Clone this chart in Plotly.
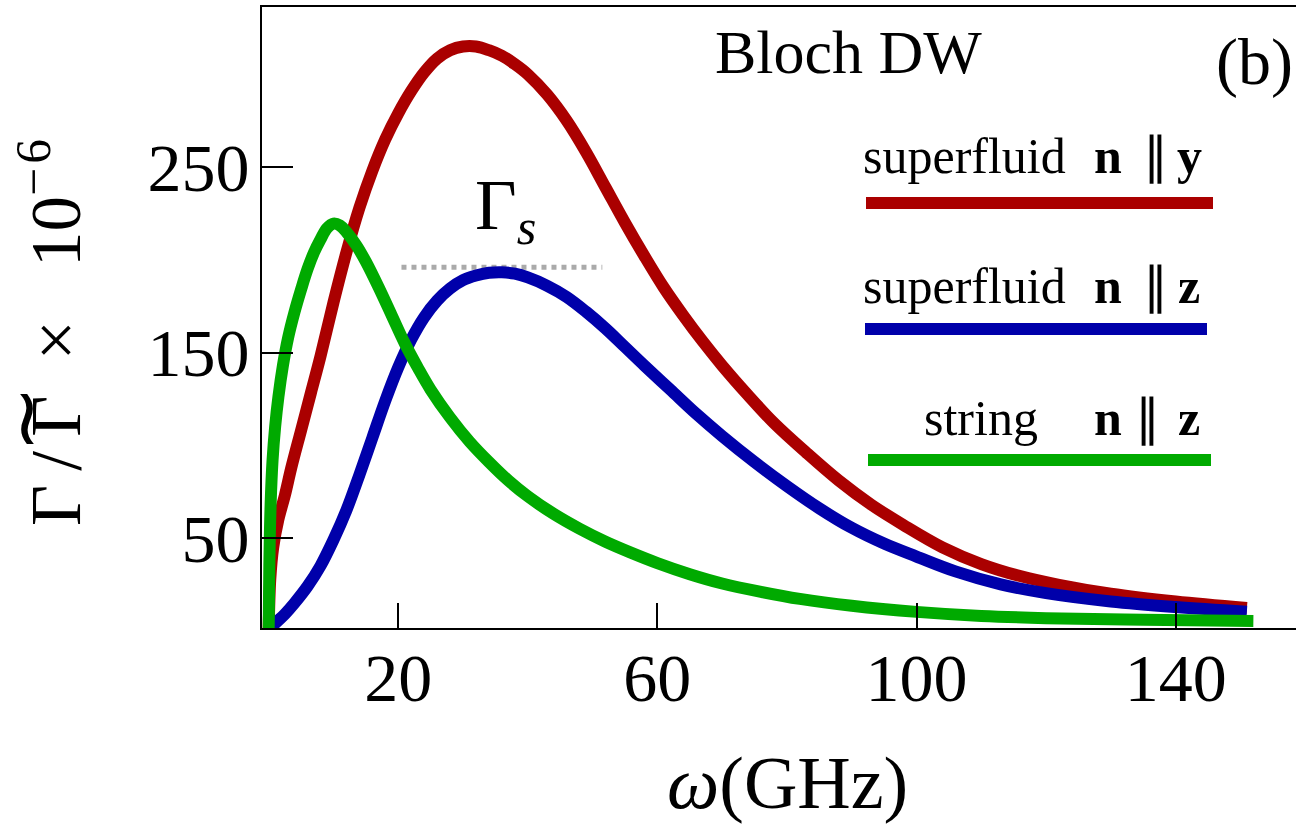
import plotly.graph_objects as go

# ---- data: damping rate vs. frequency (Bloch domain wall) ----
omega_red = [0, 0.25, 0.7, 1.5, 2.5, 3.5, 5, 6.5, 8, 10, 12, 14, 16, 18, 20, 22, 24, 26, 28,
             30, 32, 34, 36, 38, 40, 43, 46, 49, 52, 55, 58, 61, 64, 67, 70, 74, 78, 83, 88,
             93, 98, 104, 110, 116, 122, 130, 140, 151]
gamma_red = [0, 28, 45, 60, 73, 88, 108, 128, 148, 177, 204, 228, 248, 265, 279, 291, 301,
             308.5, 313, 315, 315, 313, 310, 305.5, 300, 289, 275, 258, 239, 220, 202, 185,
             170, 156, 143, 127, 112, 96, 81, 68, 57, 45, 36, 29.5, 24.8, 20, 15.8, 12.3]

omega_blue = [0, 1, 2.5, 4, 6, 8, 10, 12, 14, 16, 18, 20, 22, 24, 26, 28, 30, 32, 34, 36, 38,
              40, 43, 46, 49, 52, 55, 58, 62, 66, 70, 75, 80, 85, 90, 95, 100, 106, 113, 120,
              130, 140, 151]
gamma_blue = [0, 4, 9, 15, 24, 35, 49, 65, 84, 104, 124, 142, 157, 169, 178, 184.5, 189,
              191.5, 193, 193.3, 192.5, 190.5, 186, 180, 172, 163, 153, 143, 130, 117, 105,
              91, 78, 66, 55.5, 47, 40, 32, 25, 20.3, 15.8, 12.8, 10.3]

omega_green = [0, 0.1, 0.3, 0.6, 1, 1.5, 2.2, 3, 4, 5, 6, 7, 8, 9, 10, 11, 12, 13.5, 15, 17,
               19, 21, 23, 25, 28, 31, 34, 37, 40, 44, 48, 52, 56, 60, 65, 70, 76, 82, 90,
               100, 110, 120, 135, 152]
gamma_green = [0, 35, 68, 92, 110, 126, 143, 158, 172, 184, 195, 204, 211, 217, 219.5,
               218.5, 215, 208, 199, 185, 170, 155, 142, 130, 115, 102, 91, 81, 72.5, 63,
               55, 48, 42, 36.5, 30.5, 25.5, 21, 17.2, 13.5, 10.2, 8, 6.8, 5.9, 5.3]

# level of Gamma_s (dotted guide)
gamma_s_omega = [20.5, 51.5]
gamma_s_level = [196, 196]

x_ticks = [20, 60, 100, 140]
y_ticks = [50, 150, 250]

RED, BLUE, GREEN = "#aa0000", "#0000aa", "#00aa00"
FONT = "Liberation Serif"

# plot area in pixels
L, R, T, B = 262, 1296, 7, 628


def px(xp):
    return (xp - L) / (R - L)


def py(yp):
    return (B - yp) / (B - T)


fig = go.Figure()

fig.add_trace(go.Scatter(x=gamma_s_omega, y=gamma_s_level, mode="lines",
                         line=dict(color="#aaaaaa", width=5, dash="dot"),
                         showlegend=False, hoverinfo="skip"))
for xs, ys, col in [(omega_red, gamma_red, RED),
                    (omega_blue, gamma_blue, BLUE),
                    (omega_green, gamma_green, GREEN)]:
    fig.add_trace(go.Scatter(x=xs, y=ys, mode="lines",
                             line=dict(color=col, width=12, shape="spline", smoothing=1.0),
                             showlegend=False))

annotations = []


def text(x, y, s, size, xanchor="center", yanchor="middle", angle=0, family=FONT):
    annotations.append(dict(x=px(x), y=py(y), xref="paper", yref="paper", text=s,
                            showarrow=False, xanchor=xanchor, yanchor=yanchor,
                            textangle=angle,
                            font=dict(family=family, size=size, color="black")))


# legend rows: label pieces + coloured bar under each
rows = [("superfluid", "y", 156, 203, 866, 1213, RED),
        ("superfluid", "z", 286, 329, 865, 1207, BLUE),
        ("string", "z", 418, 460, 868, 1211, GREEN)]
shapes = []
for label, comp, ty, ly, x0, x1, col in rows:
    text(1068 if label != "string" else 1040, ty, label, 50, xanchor="right")
    text(1108, ty, "<b>n</b>", 50)
    text(1155 if label != "string" else 1147, ty, "\u2225", 50)
    text(1189, ty, "<b>%s</b>" % comp, 50)
    shapes.append(dict(type="line", xref="paper", yref="paper",
                       x0=px(x0), x1=px(x1), y0=py(ly), y1=py(ly),
                       line=dict(color=col, width=12)))

text(848, 52, "Bloch DW", 62)
text(1295, 62, "(b)", 66, xanchor="right")
text(505, 210, "\u0393<sub><i>s</i></sub>", 72)

# axis titles (tilde over the second Gamma set as an upright wave next to it)
text(50, 333, "\u0393\u2009/\u2009\u0393\u2002\u00d7\u2002 10<sup>\u2212\u200a6</sup>", 71,
     angle=-90)
text(27, 416, "\u2240", 80, family="DejaVu Serif")
text(787, 783, "<i>\u03c9</i>(GHz)", 74)

fig.update_layout(
    width=1296, height=828,
    margin=dict(l=L, r=1296 - R, t=T, b=828 - B),
    paper_bgcolor="white", plot_bgcolor="white",
    font=dict(family=FONT, color="black"),
    annotations=annotations, shapes=shapes,
    showlegend=False,
)
fig.update_xaxes(range=[-1.03, 158.58], showgrid=False, zeroline=False,
                 showline=True, linecolor="black", linewidth=2, mirror=True,
                 ticks="inside", ticklen=25, tickwidth=2, tickcolor="black",
                 tickvals=x_ticks, ticktext=[str(v) for v in x_ticks],
                 tickfont=dict(family=FONT, size=68), ticklabelstandoff=-11)
fig.update_yaxes(range=[1.5, 336.3], showgrid=False, zeroline=False,
                 showline=True, linecolor="black", linewidth=2,
                 ticks="inside", ticklen=31, tickwidth=2, tickcolor="black",
                 tickvals=y_ticks, ticktext=[str(v) for v in y_ticks],
                 tickfont=dict(family=FONT, size=68), ticklabelstandoff=-3)

fig.write_html("out.html")
